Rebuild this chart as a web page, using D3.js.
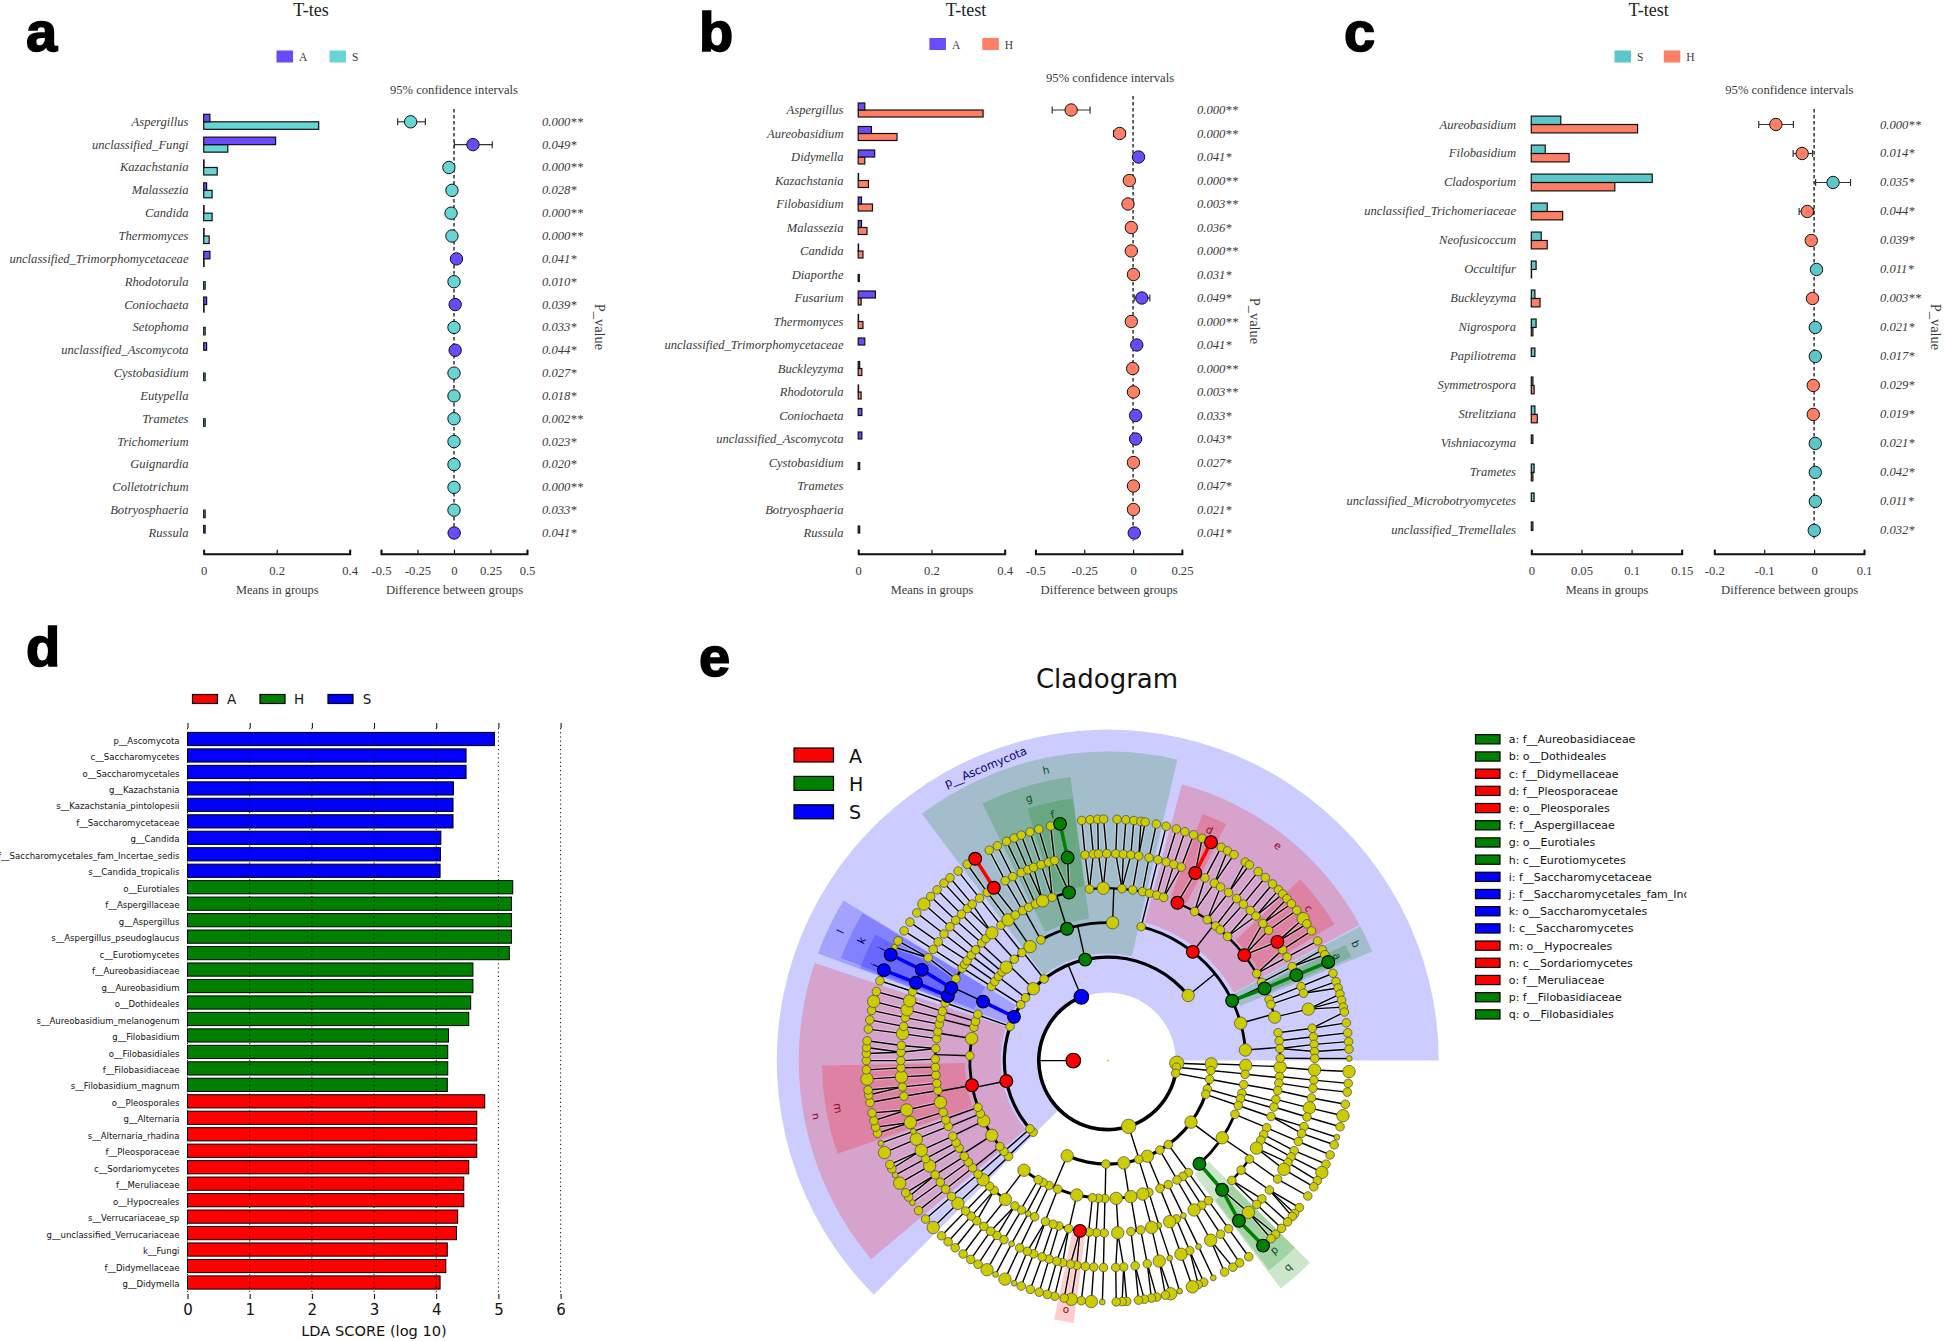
<!DOCTYPE html>
<html><head><meta charset="utf-8">
<script src="https://d3js.org/d3.v7.min.js"></script>
<style>html,body{margin:0;padding:0;background:#fff}svg{display:block}</style>
</head><body><svg id="chart" width="1944" height="1341"></svg>
<script>
// ---------- Panel a data ----------
const catsA=["Aspergillus","unclassified_Fungi","Kazachstania","Malassezia","Candida","Thermomyces","unclassified_Trimorphomycetaceae","Rhodotorula","Coniochaeta","Setophoma","unclassified_Ascomycota","Cystobasidium","Eutypella","Trametes","Trichomerium","Guignardia","Colletotrichum","Botryosphaeria","Russula"];
const meanA1=[0.017,0.197,0.001,0.008,0.001,0.001,0.017,0,0.008,0,0.008,0,0,0,0,0,0,0,0.004];
const meanA2=[0.315,0.066,0.037,0.023,0.023,0.015,0.001,0.004,0.001,0.004,0,0.004,0,0.004,0,0,0,0.004,0];
const diffA=[-0.297,0.13,-0.035,-0.014,-0.02,-0.014,0.017,0,0.008,0,0.008,0,0,0,0,0,0,0,0.001];
const ciLoA=[-0.386,0.003,null,null,null,null,null,null,null,null,null,null,null,null,null,null,null,null,null];
const ciHiA=[-0.196,0.262,null,null,null,null,null,null,null,null,null,null,null,null,null,null,null,null,null];
const higherA=["S","A","S","S","S","S","A","S","A","S","A","S","S","S","S","S","S","S","A"];
const pA=["0.000**","0.049*","0.000**","0.028*","0.000**","0.000**","0.041*","0.010*","0.039*","0.033*","0.044*","0.027*","0.018*","0.002**","0.023*","0.020*","0.000**","0.033*","0.041*"];
// ---------- Panel b data ----------
const catsB=["Aspergillus","Aureobasidium","Didymella","Kazachstania","Filobasidium","Malassezia","Candida","Diaporthe","Fusarium","Thermomyces","unclassified_Trimorphomycetaceae","Buckleyzyma","Rhodotorula","Coniochaeta","unclassified_Ascomycota","Cystobasidium","Trametes","Botryosphaeria","Russula"];
const meanB1=[0.018,0.036,0.045,0.001,0.009,0.009,0.001,0,0.047,0.001,0.018,0.004,0.001,0.01,0.01,0,0,0,0.004];
const meanB2=[0.341,0.106,0.018,0.028,0.039,0.024,0.013,0.003,0.008,0.013,0,0.01,0.008,0,0,0.004,0,0,0];
const diffB=[-0.317,-0.069,0.028,-0.019,-0.026,-0.009,-0.009,0.002,0.045,-0.009,0.019,-0.002,0.002,0.013,0.013,0.002,0.002,0.002,0.006];
const ciLoB=[-0.414,-0.1,null,null,null,null,null,null,0.006,null,null,null,null,null,null,null,null,null,null];
const ciHiB=[-0.22,-0.04,null,null,null,null,null,null,0.086,null,null,null,null,null,null,null,null,null,null];
const higherB=["H","H","A","H","H","H","H","H","A","H","A","H","H","A","A","H","H","H","A"];
const pB=["0.000**","0.000**","0.041*","0.000**","0.003**","0.036*","0.000**","0.031*","0.049*","0.000**","0.041*","0.000**","0.003**","0.033*","0.043*","0.027*","0.047*","0.021*","0.041*"];
// ---------- Panel c data ----------
const catsC=["Aureobasidium","Filobasidium","Cladosporium","unclassified_Trichomeriaceae","Neofusicoccum","Occultifur","Buckleyzyma","Nigrospora","Papiliotrema","Symmetrospora","Strelitziana","Vishniacozyma","Trametes","unclassified_Microbotryomycetes","unclassified_Tremellales"];
const meanC1=[0.0294,0.0139,0.1206,0.0159,0.0099,0.0048,0.0036,0.0048,0.0036,0.0016,0.0036,0.0016,0.0028,0.0028,0.0016];
const meanC2=[0.106,0.0377,0.0833,0.0313,0.0159,0.0003,0.0087,0.0016,0,0.0028,0.006,0,0.0016,0,0];
const diffC=[-0.0766,-0.024,0.038,-0.0136,-0.0056,0.0048,-0.0032,0.0024,0.0024,-0.0016,-0.0016,0.0024,0.0024,0.0024,0.0003];
const ciLoC=[-0.111,-0.042,0.003,-0.03,null,null,null,null,null,null,null,null,null,null,null];
const ciHiC=[-0.0415,-0.003,0.073,-0.001,null,null,null,null,null,null,null,null,null,null,null];
const higherC=["H","H","S","H","H","S","H","S","S","H","H","S","S","S","S"];
const pC=["0.000**","0.014*","0.035*","0.044*","0.039*","0.011*","0.003**","0.021*","0.017*","0.029*","0.019*","0.021*","0.042*","0.011*","0.032*"];
// ---------- Panel d data ----------
const ldaTaxa=["p__Ascomycota","c__Saccharomycetes","o__Saccharomycetales","g__Kazachstania","s__Kazachstania_pintolopesii","f__Saccharomycetaceae","g__Candida","f__Saccharomycetales_fam_Incertae_sedis","s__Candida_tropicalis","o__Eurotiales","f__Aspergillaceae","g__Aspergillus","s__Aspergillus_pseudoglaucus","c__Eurotiomycetes","f__Aureobasidiaceae","g__Aureobasidium","o__Dothideales","s__Aureobasidium_melanogenum","g__Filobasidium","o__Filobasidiales","f__Filobasidiaceae","s__Filobasidium_magnum","o__Pleosporales","g__Alternaria","s__Alternaria_rhadina","f__Pleosporaceae","c__Sordariomycetes","f__Meruliaceae","o__Hypocreales","s__Verrucariaceae_sp","g__unclassified_Verrucariaceae","k__Fungi","f__Didymellaceae","g__Didymella"];
const ldaScore=[4.935,4.48,4.48,4.277,4.27,4.27,4.074,4.068,4.062,5.23,5.21,5.21,5.21,5.175,4.59,4.59,4.554,4.523,4.197,4.185,4.185,4.178,4.78,4.652,4.652,4.652,4.523,4.443,4.443,4.345,4.326,4.178,4.154,4.062];
const ldaGroup=["S","S","S","S","S","S","S","S","S","H","H","H","H","H","H","H","H","H","H","H","H","H","A","A","A","A","A","A","A","A","A","A","A","A"];
// ---------- Panel e data: clade angle (degrees clockwise from top, read 90..450) ----------
const kNodes=[270];
const pNodes=[92.2,95.5,100.6,162.4,337.5];
const cGroups=[[92.2,[91.8]],[95.5,[95.5]],[100.6,[100.4,105.9]],[162.4,[109,126.5,144.2,149.8,157.5,162.6,171.1,181.1,203.1]],[337.5,[226.2,228.8,258.6,289.3,295,302.7,307.4,314,322,347.4,411]]];
const oGroups=[[91.8,[92]],[95.5,[95.7]],[100.4,[100]],[105.9,[103.7,106]],[109,[109]],[126.5,[112.9,124,138.4]],[144.2,[144.3]],[149.8,[147,149.9]],[157.5,[154,157.8]],[162.6,[162.7,165.3]],[171.1,[170.4,176.5]],[181.1,[181.2,183.9,186.4,193,201.3]],[203.1,[205.2,208,210.3,217.4]],[226.2,[226]],[228.8,[228.8]],[258.6,[231.5,237.2,244.1,247.4,250.2,259.7,272,279.2]],[289.3,[284,286.5,289.6]],[295,[295.3]],[302.7,[302.5,305]],[307.4,[307.6,310]],[314,[312.6,317.3,321.5]],[322,[325.7]],[347.4,[331,342.8,362]],[411,[374,398,424.3,434.3,445.6]]];
const fGroups=[[92,[92.2]],[95.7,[95.3,97.5]],[100,[100]],[103.7,[103]],[106,[105.6]],[109,[108.9]],[112.9,[112.9,115.4,117.5,120.5]],[124,[124.8,129.4,134]],[138.4,[138.5]],[144.3,[144.3]],[147,[147]],[149.9,[150]],[154,[154]],[157.8,[156.6,159]],[162.7,[162.8]],[165.3,[165.3]],[170.4,[169,172.3]],[176.5,[176.7]],[181.2,[181.2]],[183.9,[183.8]],[186.4,[186.2]],[193,[189.3,193.1,196.5]],[201.3,[198.5,201.2]],[205.2,[205.1,207.5]],[208,[210]],[210.3,[212.6]],[217.4,[216.4,221.2,223.3]],[226,[226.3]],[228.8,[228.8]],[231.5,[231.6,234]],[237.2,[236.3,239.5]],[244.1,[241.6,244]],[247.4,[247.6]],[250.2,[249.9,252.6]],[259.7,[256,260,262.4,265.2,267.8]],[272,[270.5,274]],[279.2,[277.3,279.7,282.2]],[284,[284.3]],[286.5,[286.6]],[289.6,[289.6]],[295.3,[292,294.9]],[302.5,[298.3,302.4]],[305,[303.9,305.4]],[307.6,[307.7,310]],[310,[313]],[312.6,[315]],[317.3,[317.8]],[321.5,[321.7,324.7]],[325.7,[327.6]],[331,[330.4,332.7,335.2,337.8,341.2]],[342.8,[347]],[362,[353.9,358.5,364.7,368.3,371.6]],[374,[374,376.5,378.9]],[398,[383.8,390.2,395.2,398.7,400.7,404,412.3,419.7,423]],[424.3,[425.3]],[434.3,[429.2,431,435.4]],[445.6,[440.7,443.4,446,449.2]]];
const gNodes=[92.6,95.4,97.7,100.4,103.2,105.8,108.6,110.6,113,115.8,117.7,119.5,121.7,124.9,128.7,131.9,134,137.2,140.7,144.3,147,150.2,154,156.7,159.3,162.6,165.6,169,172.4,175.6,177.8,181.2,183.9,186.2,188.6,190.4,192.6,194.3,196.5,198.5,201,202.9,205.2,207.7,210.1,212.4,214.5,216.8,219.3,221.3,223.4,226.4,229,231.6,234,236.5,239.4,241.7,244.3,247.7,250,252.6,256.2,260.1,262.7,265.5,268,270,272.3,274.2,277.5,279.5,282,284.2,286.8,289.5,292.1,296,299.8,302.5,305,307.7,310.3,312.7,315,317.3,319.1,321.7,324.4,326.6,330.3,332.7,335.3,337.3,339,341.2,343.4,345.1,348.8,353.7,356,357.4,359.7,362.2,364.3,366.4,368.6,371.5,374,376.4,378.6,380.8,385,388,391,393,395.7,398.5,400.9,403.5,405.7,408.5,411,415,417.6,420,423,425.6,429,431,435.6,441,443.4,445.5,447.5,449.4];
const sNodes=[92.6,95.4,97.5,100.4,103.2,105.9,108.5,110.4,113,115.4,117.6,119.8,121.5,124.1,127.5,129.3,130.2,131.9,134,136,137.5,140,144.3,146.9,148.8,151.1,154.1,156.6,158,159.5,162.7,164.9,166.2,168.3,169.6,171.3,172.7,175.5,176.6,178,181.3,183.9,186.3,188.7,190.4,192.7,194.5,196.5,198.7,201,202.8,205.2,207.7,210,212.5,214.6,216.8,219.2,221.4,223.5,226.3,229,231.6,234,235.6,236.8,239.5,241.7,243.4,244.5,247.6,250,252.5,254,255.6,257.5,260,261.8,263,265.6,267.8,270,271.7,273.1,274.7,277.5,279.7,282,284.2,286.6,289.3,292,296,298,299.7,302.5,305,307.7,310.4,312.8,315,317.3,319.2,321.7,324.4,326.7,330.6,332.8,335.2,337.2,339,341.2,343.4,346.3,348.6,353.8,355.8,357.6,359,362.2,364.3,366.2,367.9,368.9,371.6,374,376.5,378.6,380.8,383,385.3,388,389.7,391.5,394.7,395.9,398.5,400.7,403,405,406.4,407.9,409.5,411.5,414,415.5,417.5,420.3,422.7,424,425.9,428.8,430.9,432.5,434,435.5,437.2,438.4,441,443.4,445.5,447.3,449.5];
// abundance classes
const bigNodes={p:[92.2,162.4],c:[91.8,126.5,157.5,171.1,203.1,314,411],o:[92,124,165.3,170.4,176.5,193,217.4,237.2,244.1,279.2,312.6,325.7,362,434.3,445.6],f:[92.2,120.5,150,159,165.3,176.7,216.4,226.3,256,358.5,317.8,324.7,337.8,435.4],g:[92.6,103.2,121.7,137.2,150.2,159.3,165.6,226.4,239.4,244.3,247.7,252.6,256.2,265.5,277.5,284.2,286.8,435.6],s:[92.6,103.2,117.6,159.5,164.9,183.9,188.7,205.2,210,226.3,239.5,247.6,265.6,284.2,310.4,414]};
const smallNodes={f:[154,162.8,207.5],g:[154,162.6,207.7,250],s:[108.5,154.1,162.7,181.3,202.8,207.7,234,241.7,250,298,449.5]};
const enriched=[["k",270,"A"],["p",337.5,"S"],["c",347.4,"H"],["c",258.6,"A"],["c",295,"S"],["o",342.8,"H"],["o",424.3,"H"],["o",138.4,"H"],["o",398,"A"],["o",259.7,"A"],["o",295.3,"S"],["f",347,"H"],["f",425.3,"H"],["f",138.5,"H"],["f",383.8,"A"],["f",412.3,"A"],["f",189.3,"A"],["f",294.9,"S"],["f",292,"S"],["g",348.8,"H"],["g",425.6,"H"],["g",140.7,"H"],["g",326.6,"A"],["g",385,"A"],["g",415,"A"],["g",296,"S"],["g",292.1,"S"],["s",348.6,"H"],["s",425.9,"H"],["s",140,"H"],["s",326.7,"A"],["s",385.3,"A"],["s",296,"S"],["s",292,"S"]];
const thickLinks=[["o",138.4,"f",138.5,"H"],["f",138.5,"g",140.7,"H"],["g",140.7,"s",140,"H"],["o",424.3,"f",425.3,"H"],["f",425.3,"g",425.6,"H"],["g",425.6,"s",425.9,"H"],["g",348.8,"s",348.6,"H"],["g",326.6,"s",326.7,"A"],["g",385,"s",385.3,"A"],["c",295,"o",295.3,"S"],["f",294.9,"g",296,"S"],["f",292,"g",292.1,"S"],["g",296,"s",296,"S"],["g",292.1,"s",292,"S"]];
// highlighted clades: label, level, start angle, end angle, group
const cladeBands=[
 ["p__Ascomycota","p",225,450,"S"],
 ["h","c",323,373,"H"],["l","c",290.3,301.2,"S"],["n","c",230,288.4,"A"],
 ["g","o",334,352.5,"H"],["e","o",375,421.7,"A"],["b","o",422,427.6,"H"],["q","o",135,142.8,"H"],["m","o",251,269,"A"],["k","o",291,301,"S"],
 ["f","f",342.3,352.4,"H"],["d","f",381,386.6,"A"],["c","f",406.7,419,"A"],["a","f",424,427,"H"],["p","f",135,142.4,"H"],["o","f",187.4,191.7,"A"],["i","f",294,298.5,"S"],["j","f",290.5,294,"S"]];
const cladoLegend=["a: f__Aureobasidiaceae","b: o__Dothideales","c: f__Didymellaceae","d: f__Pleosporaceae","e: o__Pleosporales","f: f__Aspergillaceae","g: o__Eurotiales","h: c__Eurotiomycetes","i: f__Saccharomycetaceae","j: f__Saccharomycetales_fam_Incertae_sedis","k: o__Saccharomycetales","l: c__Saccharomycetes","m: o__Hypocreales","n: c__Sordariomycetes","o: f__Meruliaceae","p: f__Filobasidiaceae","q: o__Filobasidiales"];
const cladoLegendGroup=["H","H","A","A","A","H","H","H","S","S","S","S","A","A","A","H","H"];
const groupNames=["A","H","S"];

// ---------- Drawing ----------
const svg=d3.select("#chart");
const SERIF='"Liberation Serif","Times New Roman",serif', DEJA='"DejaVu Sans",sans-serif';
const INK="#3a3a3a";
const PURPLE="#6a4bfb", TEAL="#66d5d3", TEAL2="#5cc6c9", CORAL="#fd7f66";

function letter(t,x,y){svg.append("text").attr("x",x).attr("y",y).text(t).attr("font-family",'"Liberation Sans",Arial,sans-serif').attr("font-weight","bold").attr("font-size",56).attr("stroke","#000").attr("stroke-width",1.6).attr("fill","#000");}
letter("a",26,51);letter("b",699,51);letter("c",1344,51);letter("d",26,666);letter("e",699,676);

function tTest(o){
  const g=svg.append("g");
  const y=d3.scalePoint().domain(o.cats).range([o.y0,o.y1]);
  const xM=d3.scaleLinear().domain(o.mDom).range(o.mRange);
  const xD=d3.scaleLinear().domain(o.dDom).range(o.dRange);
  const txt=(x,yy,s,size,anchor)=>g.append("text").attr("x",x).attr("y",yy).text(s).attr("font-family",SERIF).attr("font-size",size).attr("text-anchor",anchor||"middle").attr("fill",INK);
  txt(o.titleX,16,o.title,18).attr("fill","#222");
  // legend
  o.legend.forEach(l=>{
    g.append("rect").attr("x",l.x).attr("y",o.legY).attr("width",16.5).attr("height",12).attr("fill",l.color);
    txt(l.x+22.5,o.legY+10.5,l.name,11.5,"start");
  });
  txt(xD(0)+o.ciDx,o.ciY,"95% confidence intervals",12.6);
  // labels and p
  g.selectAll(".c").data(o.cats).join("text").attr("x",o.labelX).attr("y",d=>y(d)+4).text(d=>d).attr("font-family",SERIF).attr("font-style","italic").attr("font-size",12.6).attr("text-anchor","end").attr("fill",INK);
  g.selectAll(".p").data(o.p).join("text").attr("x",o.pX).attr("y",(d,i)=>y(o.cats[i])+4).text(d=>d).attr("font-family",SERIF).attr("font-style","italic").attr("font-size",12.6).attr("fill",INK);
  g.append("text").attr("transform",`translate(${o.pvX},${o.pvY}) rotate(90)`).text("P_value").attr("font-family",SERIF).attr("font-size",14.4).attr("text-anchor","middle").attr("fill",INK);
  // bars
  const bar=(vals,color,off)=>g.selectAll(null).data(vals.map((v,i)=>({v,i})).filter(d=>d.v>0)).join("rect")
     .attr("x",xM(0)).attr("y",d=>y(o.cats[d.i])+off).attr("width",d=>xM(d.v)-xM(0)).attr("height",o.barH)
     .attr("fill",color).attr("stroke","#111").attr("stroke-width",1.2);
  bar(o.m2,o.c2,0); bar(o.m1,o.c1,-o.barH);
  // axes
  const axis=(sc,vals,labels,title)=>{
    const ax=g.append("g").attr("transform",`translate(0,${o.axisY})`).call(d3.axisBottom(sc).tickValues(vals).tickSize(-4).tickFormat((d,i)=>labels[i]));
    ax.select(".domain").attr("stroke","#111").attr("stroke-width",2);
    ax.selectAll(".tick line").attr("stroke","#111").attr("stroke-width",1.2);
    ax.selectAll("text").attr("y",17).attr("dy","0.35em").attr("font-family",SERIF).attr("font-size",12.6).attr("fill",INK);
    txt(d3.mean(sc.range())+.5,o.axisY+40,title,title.length>20?12.7:12.4);
  };
  axis(xM,o.mTicks,o.mLabels,"Means in groups");
  axis(xD,o.dTicks,o.dLabels,"Difference between groups");
  // zero line
  g.append("line").attr("x1",xD(0)).attr("x2",xD(0)).attr("y1",o.dashTop).attr("y2",o.axisY-13).attr("stroke","#111").attr("stroke-width",1.3).attr("stroke-dasharray","3.5,2.5");
  // CI + dots
  o.diff.forEach((d,i)=>{
    const yy=y(o.cats[i]);
    if(o.lo[i]!==null){
      g.append("line").attr("x1",xD(o.lo[i])).attr("x2",xD(o.hi[i])).attr("y1",yy).attr("y2",yy).attr("stroke","#333").attr("stroke-width",1.2);
      [o.lo[i],o.hi[i]].forEach(v=>g.append("line").attr("x1",xD(v)).attr("x2",xD(v)).attr("y1",yy-3.5).attr("y2",yy+3.5).attr("stroke","#333").attr("stroke-width",1.2));
    }
    g.append("circle").attr("cx",xD(d)).attr("cy",yy).attr("r",6.2).attr("fill",o.dotColor[o.higher[i]]).attr("stroke","#111").attr("stroke-width",1);
  });
}

tTest({title:"T-tes",titleX:311,cats:catsA,m1:meanA1,m2:meanA2,diff:diffA,lo:ciLoA,hi:ciHiA,p:pA,higher:higherA,dotColor:{A:PURPLE,S:TEAL},c1:PURPLE,c2:TEAL,y0:121.8,y1:533,barH:7.5,
 mDom:[0,0.4],mRange:[203.7,349.7],dDom:[-0.5,0.5],dRange:[381,527],mTicks:[0,0.2,0.4],mLabels:["0","0.2","0.4"],dTicks:[-0.5,-0.25,0,0.25,0.5],dLabels:["-0.5","-0.25","0","0.25","0.5"],
 axisY:553.7,labelX:188.5,pX:542,pvX:595,pvY:327,legY:50.5,legend:[{x:276.5,color:PURPLE,name:"A"},{x:329.5,color:TEAL,name:"S"}],ciY:94,ciDx:0,dashTop:109});
tTest({title:"T-test",titleX:966,cats:catsB,m1:meanB1,m2:meanB2,diff:diffB,lo:ciLoB,hi:ciHiB,p:pB,higher:higherB,dotColor:{A:PURPLE,H:CORAL},c1:PURPLE,c2:CORAL,y0:110,y1:533,barH:7,
 mDom:[0,0.4],mRange:[858.2,1004.7],dDom:[-0.5,0.25],dRange:[1035.4,1181.9],mTicks:[0,0.2,0.4],mLabels:["0","0.2","0.4"],dTicks:[-0.5,-0.25,0,0.25],dLabels:["-0.5","-0.25","0","0.25"],
 axisY:553.7,labelX:843.5,pX:1197,pvX:1250,pvY:321,legY:38,legend:[{x:929.4,color:PURPLE,name:"A"},{x:982.3,color:CORAL,name:"H"}],ciY:81.5,ciDx:-23,dashTop:96});
tTest({title:"T-test",titleX:1648.7,cats:catsC,m1:meanC1,m2:meanC2,diff:diffC,lo:ciLoC,hi:ciHiC,p:pC,higher:higherC,dotColor:{S:TEAL2,H:CORAL},c1:TEAL2,c2:CORAL,y0:124.5,y1:530.4,barH:8.4,
 mDom:[0,0.15],mRange:[1531.3,1681.7],dDom:[-0.2,0.1],dRange:[1714.3,1864],mTicks:[0,0.05,0.1,0.15],mLabels:["0","0.05","0.1","0.15"],dTicks:[-0.2,-0.1,0,0.1],dLabels:["-0.2","-0.1","0","0.1"],
 axisY:553.7,labelX:1516,pX:1880,pvX:1931,pvY:327,legY:50.5,legend:[{x:1614.5,color:TEAL2,name:"S"},{x:1663.8,color:CORAL,name:"H"}],ciY:94,ciDx:-24.8,dashTop:109});

// Panel d
const GROUP={A:"#ff0000",H:"#008000",S:"#0000ff"};
(function(){
  const g=svg.append("g");
  const x=d3.scaleLinear().domain([0,6]).range([187.5,560.6]);
  const y=d3.scalePoint().domain(ldaTaxa).range([739,1282.5]);
  g.selectAll(".b").data(ldaTaxa).join("rect").attr("x",x(0)).attr("y",d=>y(d)-6.6).attr("width",(d,i)=>x(ldaScore[i])-x(0)).attr("height",13.2)
    .attr("fill",(d,i)=>GROUP[ldaGroup[i]]).attr("stroke","#000").attr("stroke-width",1);
  g.selectAll(".l").data(ldaTaxa).join("text").attr("x",179.5).attr("y",d=>y(d)+4.6).text(d=>d).attr("text-anchor","end").attr("font-family",DEJA).attr("font-size",8.55).attr("fill","#111");
  const ticks=[0,1,2,3,4,5,6];
  const ax=g.append("g").attr("transform","translate(0,1294)").call(d3.axisBottom(x).tickValues(ticks).tickSize(5).tickFormat(d3.format("d")));
  ax.select(".domain").remove();
  ax.selectAll("text").attr("y",16).attr("dy","0.35em").attr("font-family",DEJA).attr("font-size",15).attr("fill","#111");
  const ax2=g.append("g").attr("transform","translate(0,728)").call(d3.axisTop(x).tickValues(ticks).tickSize(5).tickFormat(""));
  ax2.select(".domain").remove();
  g.selectAll(".v").data(ticks).join("line").attr("x1",d=>x(d)).attr("x2",d=>x(d)).attr("y1",728).attr("y2",1294).attr("stroke","#111").attr("stroke-width",1).attr("stroke-dasharray","1.2,3");
  g.append("text").attr("x",374).attr("y",1336).text("LDA SCORE (log 10)").attr("text-anchor","middle").attr("font-family",DEJA).attr("font-size",14.6).attr("fill","#111");
  [[192.5,231.5],[260,299],[328,367]].forEach((p,i)=>{
    g.append("rect").attr("x",p[0]).attr("y",694.5).attr("width",25).attr("height",9).attr("fill",GROUP[groupNames[i]]).attr("stroke","#000").attr("stroke-width",1.2);
    g.append("text").attr("x",p[1]).attr("y",704).text(groupNames[i]).attr("text-anchor","middle").attr("font-family",DEJA).attr("font-size",13.5).attr("fill","#111");
  });
})();

// Panel e
(function(){
  const CX=1107.8,CY=1060.6;
  const g=svg.append("g").attr("transform",`translate(${CX},${CY})`);
  const ang=d3.scaleLinear().domain([0,360]).range([0,2*Math.PI]);
  const R={k:34.5,p:69,c:103.5,o:138,f:172.5,g:207,s:241.5};
  const bandR={p:[68,331],c:[107,309],o:[143,286],f:[176,264.5]};
  const labelR={c:297,o:274,f:252};
  const labelCol={A:"#8a0a2a",H:"#0a4a2a",S:"#000080"};
  const arc=d3.arc();
  const pt=(a,r)=>d3.pointRadial(ang(a),r);

  svg.append("text").attr("x",1107).attr("y",688).text("Cladogram").attr("text-anchor","middle").attr("font-family",DEJA).attr("font-size",26).attr("fill","#111");
  // clade bands
  g.selectAll(".w").data(cladeBands).join("path").attr("d",d=>arc({innerRadius:bandR[d[1]][0],outerRadius:bandR[d[1]][1],startAngle:ang(d[2]),endAngle:ang(d[3])}))
    .attr("fill",d=>GROUP[d[4]]).attr("fill-opacity",.2);
  // flatten rings
  const flat=gr=>gr.flatMap(d=>d[1]);
  const rings={k:kNodes,p:pNodes,c:flat(cGroups),o:flat(oGroups),f:flat(fGroups),g:gNodes,s:sNodes};
  const lineG=g.append("g"), arcG=g.append("g"), thickG=g.append("g"), nodeG=g.append("g");
  const seg=(a1,r1,a2,r2,w,col)=>{const p=pt(a1,r1),q=pt(a2,r2);
    lineG.append("line").attr("x1",p[0]).attr("y1",p[1]).attr("x2",q[0]).attr("y2",q[1]).attr("stroke",col||"#000").attr("stroke-width",w);};
  // grouped levels: radial line from parent to arc of children
  const grouped=(groups,pr,cr,w)=>groups.forEach(([pa,kids])=>{
    seg(pa,R[pr],pa,R[cr],1.4);
    const lo=Math.min(pa,...kids),hi=Math.max(pa,...kids);
    if(hi>lo) arcG.append("path").attr("d",arc({innerRadius:R[cr]-w/2,outerRadius:R[cr]+w/2,startAngle:ang(lo),endAngle:ang(hi)})).attr("fill","#000");
  });
  grouped([[270,pNodes]],"k","p",3.6);
  grouped(cGroups,"p","c",3.2);
  grouped(oGroups,"c","o",2.8);
  grouped(fGroups,"o","f",2.4);
  // fine levels: straight edge to the closest parent
  const nearest=(list,a)=>list.reduce((b,v)=>Math.abs(v-a)<Math.abs(b-a)?v:b,list[0]);
  const edges=[...gNodes.map(a=>[nearest(rings.f,a),R.f,a,R.g]),...sNodes.map(a=>[nearest(gNodes,a),R.g,a,R.s])];
  edges.forEach(e=>seg(e[0],e[1],e[2],e[3],3.6,"rgba(255,255,255,.32)"));
  edges.forEach(e=>seg(e[0],e[1],e[2],e[3],1.4));
  thickLinks.forEach(l=>{const p=pt(l[1],R[l[0]]),q=pt(l[3],R[l[2]]);
    thickG.append("line").attr("x1",p[0]).attr("y1",p[1]).attr("x2",q[0]).attr("y2",q[1]).attr("stroke",GROUP[l[4]]).attr("stroke-width",3.6);});
  // nodes
  const col=new Map(enriched.map(e=>[e[0]+e[1],e[2]]));
  const nodes=Object.keys(rings).flatMap(k=>rings[k].map(a=>({k,a,e:col.get(k+a)})));
  nodes.sort((m,n)=>(m.e?1:0)-(n.e?1:0));
  nodeG.selectAll("circle").data(nodes).join("circle")
    .attr("cx",d=>pt(d.a,R[d.k])[0]).attr("cy",d=>pt(d.a,R[d.k])[1])
    .attr("r",d=>{ if(d.e) return (d.k==="k"||d.k==="p")?7.3:6.4; if((bigNodes[d.k]||[]).includes(d.a)) return d.k==="p"?7.2:6.2; if((smallNodes[d.k]||[]).includes(d.a)) return 2.9; return 4.3;})
    .attr("fill",d=>d.e?GROUP[d.e]:"#cccc00").attr("stroke",d=>d.e?"#000":"#444").attr("stroke-width",d=>d.e?1.1:.7);
  nodeG.append("circle").attr("r",1).attr("fill","#cccc00");
  // clade letters
  cladeBands.filter(d=>d[1]!=="p").forEach(d=>{
    const a=(d[2]+d[3])/2, p=pt(a,labelR[d[1]]), n=((a%360)+360)%360;
    const rot=(n>90&&n<270)?n-180:(n>=270?n-360:n);
    g.append("text").attr("transform",`translate(${p[0]},${p[1]}) rotate(${rot})`).attr("dy","0.35em").attr("text-anchor","middle").text(d[0])
     .attr("font-family",DEJA).attr("font-size",10.5).attr("fill",labelCol[d[4]]);
  });
  const pa=pt(337.4,318);
  g.append("text").attr("transform",`translate(${pa[0]},${pa[1]}) rotate(-22.6)`).attr("dy","0.35em").attr("text-anchor","middle").text("p__Ascomycota")
     .attr("font-family",DEJA).attr("font-size",11.4).attr("fill","#000080");
  // left legend
  groupNames.forEach((n,i)=>{
    svg.append("rect").attr("x",794).attr("y",748+i*28.4).attr("width",39.5).attr("height",14).attr("fill",GROUP[n]).attr("stroke","#000").attr("stroke-width",1.2);
    svg.append("text").attr("x",849).attr("y",762.5+i*28.4).text(n).attr("font-family",DEJA).attr("font-size",19).attr("fill","#111");
  });
  // right legend
  const lg=svg.append("g");
  svg.append("defs").append("clipPath").attr("id","lgclip").append("rect").attr("x",1470).attr("y",725).attr("width",216.5).attr("height",310);
  lg.attr("clip-path","url(#lgclip)");
  const ly=d3.scalePoint().domain(cladoLegend).range([739.3,1014.4]);
  lg.selectAll("rect").data(cladoLegend).join("rect").attr("x",1475.5).attr("y",d=>ly(d)-4.6).attr("width",24.5).attr("height",9.2)
    .attr("fill",(d,i)=>GROUP[cladoLegendGroup[i]]).attr("stroke","#000").attr("stroke-width",1.2);
  lg.selectAll("text").data(cladoLegend).join("text").attr("x",1508.7).attr("y",d=>ly(d)+4).text(d=>d).attr("font-family",DEJA).attr("font-size",11).attr("fill","#111");
})();
</script></body></html>
